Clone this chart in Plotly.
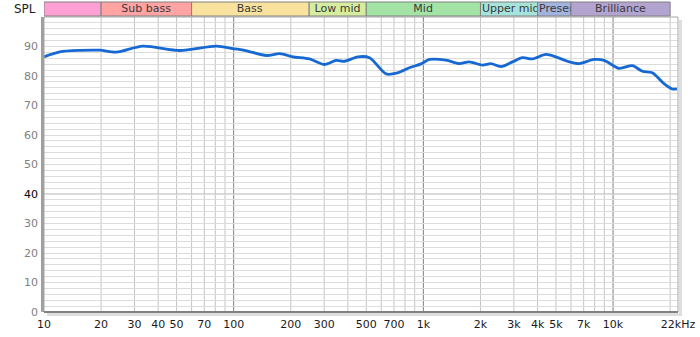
import math
import plotly.graph_objects as go

# ---- data ----
freq = [10, 12.1, 15.5, 19.7, 24.1, 33.2, 52, 81, 99, 117, 149, 175, 205, 251, 301, 347, 384,
        451, 520, 637, 733, 844, 973, 1076, 1316, 1546, 1746, 2051, 2270, 2564, 2951, 3334,
        3761, 4424, 4990, 5745, 6620, 7943, 8970, 10760, 12650, 14270, 16100, 18550, 20510, 21730]
spl = [86.5, 88.2, 88.7, 88.75, 88.1, 90.1, 88.65, 90.1, 89.3, 88.55, 86.95, 87.6, 86.5, 85.8,
       83.9, 85.3, 85.0, 86.5, 86.2, 80.7, 81.1, 82.8, 84.1, 85.6, 85.4, 84.2, 84.8, 83.7, 84.2,
       83.2, 84.8, 86.2, 85.8, 87.3, 86.5, 85.0, 84.2, 85.6, 85.3, 82.6, 83.5, 81.6, 81.1, 77.4,
       75.6, 75.6]

band_names = ["", "Sub bass", "Bass", "Low mid", "Mid", "Upper mid", "Presence", "Brilliance"]
band_start = [10, 20, 60, 250, 500, 2000, 4000, 6000]
band_end = [20, 60, 250, 500, 2000, 4000, 6000, 20000]
band_colors = ["#ffa0d4", "#ffa3a3", "#f9e29e", "#d6eda0", "#a3e3a6", "#a6e3da", "#a3b3e0", "#b3a3cf"]

xtick_vals = [10, 20, 30, 40, 50, 70, 100, 200, 300, 500, 700, 1000, 2000, 3000, 4000, 5000,
              7000, 10000, 22000]
xtick_text = ["10", "20", "30", "40", "50", "70", "100", "200", "300", "500", "700", "1k", "2k",
              "3k", "4k", "5k", "7k", "10k", "22kHz"]
grid_minor = [m * 10 ** d for d in (1, 2, 3) for m in range(2, 10)] + [20000]
grid_major = [100, 1000, 10000]
ytick_vals = [0, 10, 20, 30, 40, 50, 60, 70, 80, 90]

FMIN, FMAX = 10, 22000
L0, L1 = math.log10(FMIN), math.log10(FMAX)
PW, PH = 634.0, 295.0  # plot size px

fig = go.Figure()
fig.add_trace(go.Scatter(x=freq, y=spl, mode="lines",
                         line=dict(color="#1668d2", width=2.8, shape="spline", smoothing=0.8),
                         hoverinfo="skip", showlegend=False))
fig.add_trace(go.Scatter(x=[L0, L1], y=[0, 0], xaxis="x2", mode="markers",
                         marker=dict(opacity=0), hoverinfo="skip", showlegend=False))

shapes = []
for g in grid_minor:
    shapes.append(dict(type="line", xref="x2", yref="paper", x0=math.log10(g), x1=math.log10(g),
                       y0=0, y1=1, line=dict(color="#c4c4c4", width=1), layer="below"))
for g in grid_major:
    shapes.append(dict(type="line", xref="x2", yref="paper", x0=math.log10(g), x1=math.log10(g),
                       y0=0, y1=1, line=dict(color="#808080", width=1), layer="below"))
shapes.append(dict(type="line", xref="paper", yref="y", x0=0, x1=1, y0=40, y1=40,
                   line=dict(color="#b4b4b4", width=1), layer="below"))
shapes.append(dict(type="rect", xref="paper", yref="paper", x0=0, x1=1, y0=0, y1=1,
                   line=dict(color="#a8a8a8", width=1), layer="above"))
shapes.append(dict(type="rect", xref="paper", yref="paper", x0=1 + 1 / PW, x1=1 + 4 / PW,
                   y0=-4 / PH, y1=1 - 3 / PH, line=dict(width=0), fillcolor="rgba(0,0,0,0.13)"))
shapes.append(dict(type="rect", xref="paper", yref="paper", x0=3 / PW, x1=1 + 1 / PW,
                   y0=-4 / PH, y1=-1 / PH, line=dict(width=0), fillcolor="rgba(0,0,0,0.13)"))
shapes.append(dict(type="rect", xref="paper", yref="paper", x0=-3 / PW, x1=0,
                   y0=0, y1=1, line=dict(width=0), fillcolor="#a0a0a0"))
shapes.append(dict(type="line", xref="paper", yref="paper", x0=0, x1=1, y0=0, y1=0,
                   line=dict(color="#808080", width=2)))

annotations = []
by0 = 1 + 1 / PH
by1 = 1 + 15 / PH
for name, s, e, c in zip(band_names, band_start, band_end, band_colors):
    a, b = math.log10(s), math.log10(e)
    shapes.append(dict(type="rect", xref="x2", yref="paper", x0=a, x1=b, y0=by0, y1=by1,
                       line=dict(color="#808080", width=1), fillcolor=c))
    if name:
        wpx = (b - a) / (L1 - L0) * PW - 2
        annotations.append(dict(text=name, xref="x2", yref="paper", x=(a + b) / 2,
                                y=(by0 + by1) / 2, showarrow=False, xanchor="center",
                                yanchor="middle", width=wpx, align="left"
                                if name in ("Upper mid", "Presence") else "center",
                                font=dict(family="DejaVu Sans", size=11, color="#3a3a3a")))

annotations.append(dict(text="SPL", xref="paper", yref="paper", x=0, xshift=-6,
                        y=by0 + 7 / PH, xanchor="right", yanchor="middle", showarrow=False,
                        font=dict(family="DejaVu Sans", size=12, color="#202020")))

ytext = [str(v) if v != 40 else "<span style='color:#000000'>40</span>" for v in ytick_vals]

fig.update_layout(
    width=700, height=337, autosize=False,
    margin=dict(l=44, r=22, t=17, b=25, pad=0, autoexpand=False),
    paper_bgcolor="white", plot_bgcolor="white",
    shapes=shapes, annotations=annotations,
    xaxis=dict(type="log", range=[L0, L1], tickvals=xtick_vals, ticktext=xtick_text,
               showgrid=False, zeroline=False, showline=False, ticks="", automargin=False,
               ticklabelstandoff=4,
               tickfont=dict(family="DejaVu Sans", size=11, color="#1a1a1a")),
    xaxis2=dict(type="linear", range=[L0, L1], overlaying="x", visible=False, automargin=False),
    yaxis=dict(range=[0, 100], tickvals=ytick_vals, ticktext=ytext, showgrid=True,
               gridcolor="#dcdcdc", gridwidth=1, zeroline=False, showline=False, ticks="",
               ticklabelstandoff=5, automargin=False,
               minor=dict(dtick=2, showgrid=True, gridcolor="#dcdcdc", gridwidth=1),
               tickfont=dict(family="DejaVu Sans", size=11, color="#808080")),
)

fig.write_html("out.html")
